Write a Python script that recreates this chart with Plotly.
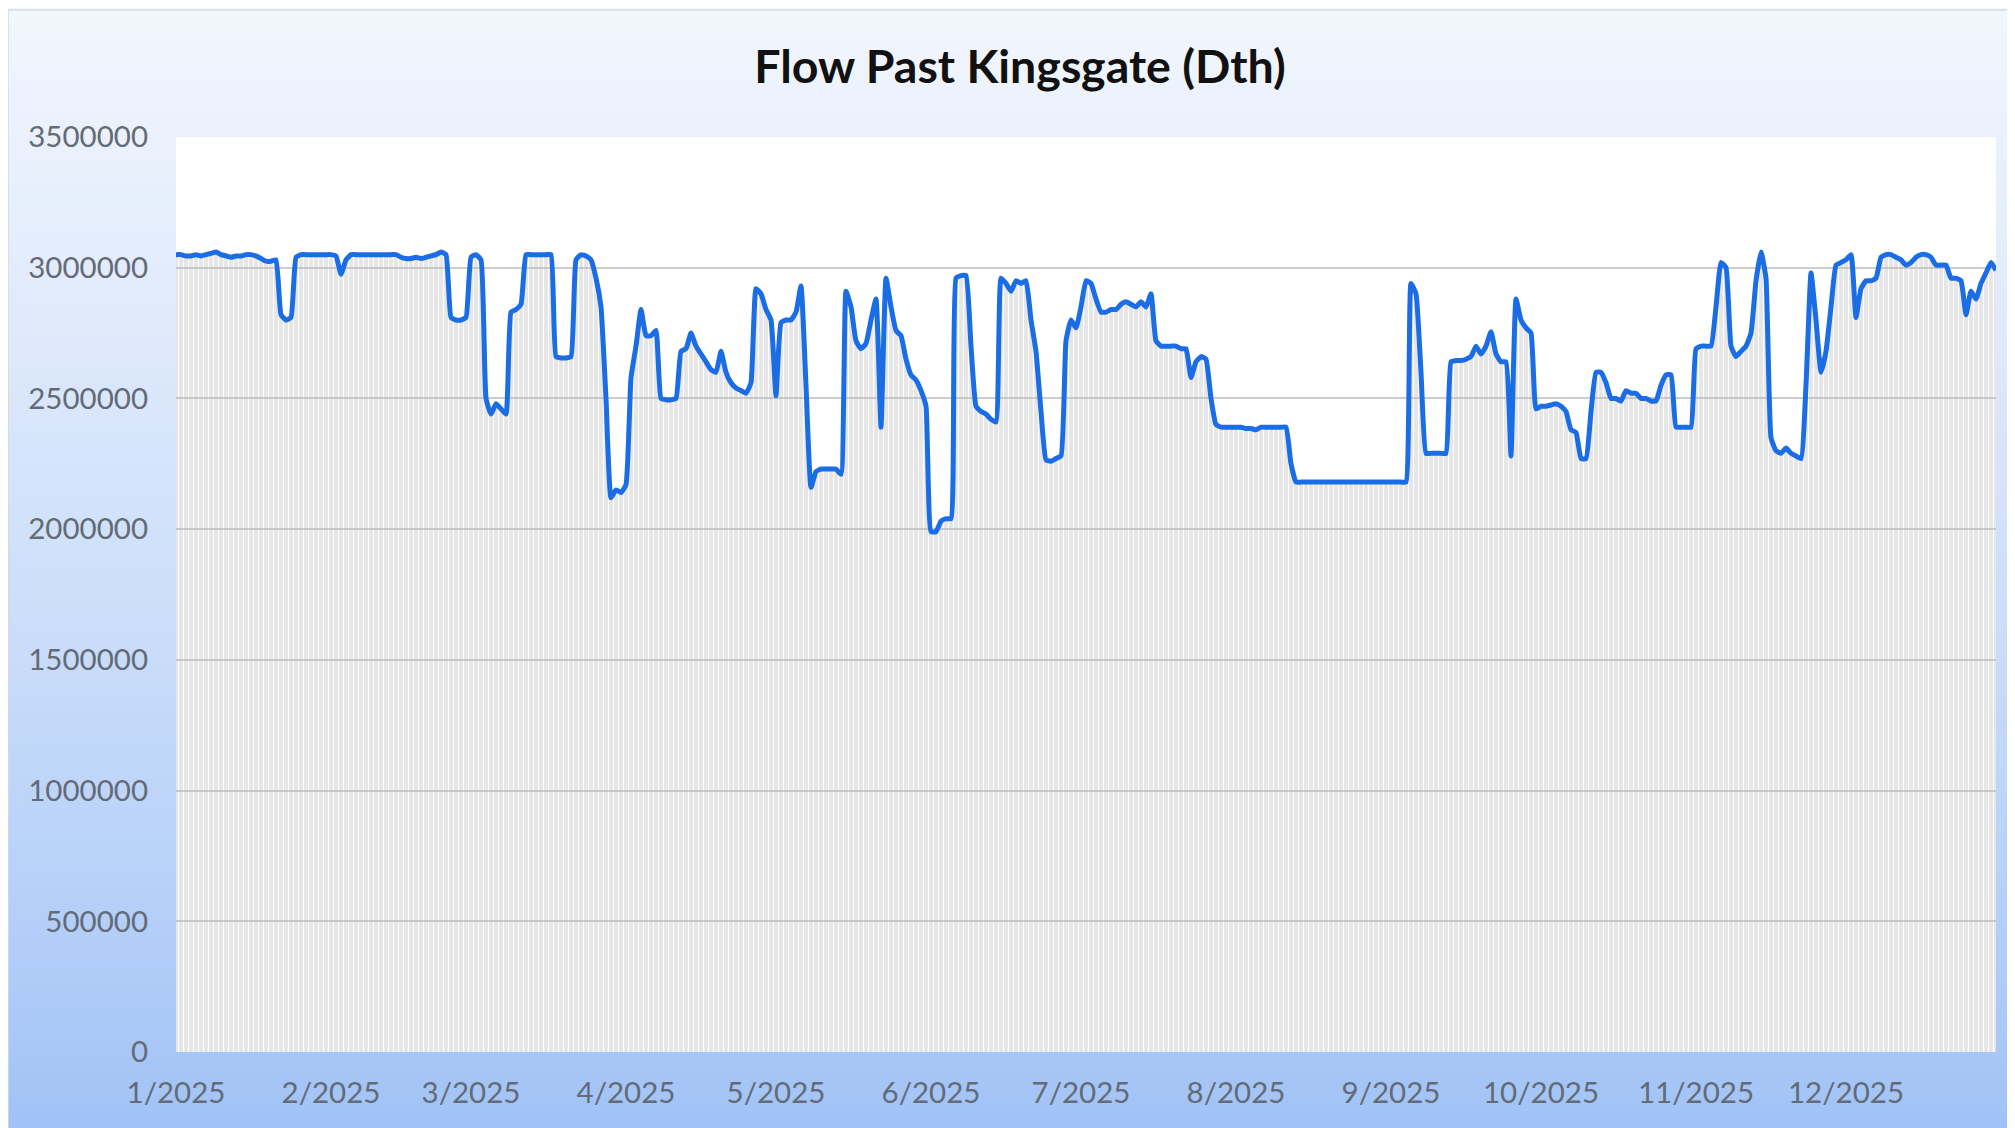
import pandas as pd
import plotly.graph_objects as go

# daily flow past Kingsgate, Dth, one list per month of 2025
jan = [3050000, 3050000, 3045000, 3045000, 3050000, 3045000, 3050000, 3055000, 3060000, 3050000,
       3045000, 3040000, 3045000, 3045000, 3050000, 3050000, 3045000, 3035000, 3025000, 3025000,
       3030000, 2820000, 2800000, 2810000, 3040000, 3050000, 3050000, 3050000, 3050000, 3050000,
       3050000]
feb = [3050000, 3045000, 2975000, 3030000, 3050000, 3050000, 3050000, 3050000, 3050000, 3050000,
       3050000, 3050000, 3050000, 3050000, 3040000, 3035000, 3035000, 3040000, 3035000, 3040000,
       3045000, 3050000, 3060000, 3050000, 2810000, 2800000, 2800000, 2810000]
mar = [3040000, 3050000, 3030000, 2500000, 2440000, 2480000, 2460000, 2440000, 2830000, 2840000,
       2860000, 3050000, 3050000, 3050000, 3050000, 3050000, 3050000, 2660000, 2655000, 2655000,
       2660000, 3030000, 3050000, 3045000, 3030000, 2960000, 2850000, 2500000, 2120000, 2150000,
       2140000]
apr = [2170000, 2580000, 2700000, 2840000, 2740000, 2740000, 2760000, 2500000, 2495000, 2495000,
       2500000, 2680000, 2690000, 2750000, 2700000, 2670000, 2640000, 2610000, 2600000, 2680000,
       2600000, 2560000, 2540000, 2530000, 2520000, 2560000, 2920000, 2900000, 2840000, 2800000]
may = [2510000, 2790000, 2800000, 2800000, 2830000, 2930000, 2550000, 2160000, 2220000, 2230000,
       2230000, 2230000, 2230000, 2210000, 2910000, 2850000, 2720000, 2690000, 2710000, 2800000,
       2880000, 2390000, 2960000, 2850000, 2760000, 2740000, 2650000, 2590000, 2570000, 2530000,
       2470000]
jun = [1990000, 1990000, 2030000, 2040000, 2040000, 2960000, 2970000, 2970000, 2700000, 2470000,
       2450000, 2440000, 2420000, 2410000, 2960000, 2940000, 2910000, 2950000, 2940000, 2950000,
       2800000, 2680000, 2450000, 2265000, 2260000, 2270000, 2280000, 2720000, 2800000, 2770000]
jul = [2850000, 2950000, 2940000, 2880000, 2830000, 2830000, 2840000, 2840000, 2860000, 2870000,
       2860000, 2850000, 2870000, 2850000, 2900000, 2720000, 2700000, 2700000, 2700000, 2700000,
       2690000, 2690000, 2580000, 2640000, 2660000, 2650000, 2500000, 2400000, 2390000, 2390000,
       2390000]
aug = [2390000, 2390000, 2385000, 2385000, 2380000, 2390000, 2390000, 2390000, 2390000, 2390000,
       2390000, 2250000, 2180000, 2180000, 2180000, 2180000, 2180000, 2180000, 2180000, 2180000,
       2180000, 2180000, 2180000, 2180000, 2180000, 2180000, 2180000, 2180000, 2180000, 2180000,
       2180000]
sep = [2180000, 2180000, 2180000, 2180000, 2940000, 2900000, 2600000, 2290000, 2290000, 2290000,
       2290000, 2290000, 2640000, 2645000, 2645000, 2650000, 2660000, 2700000, 2670000, 2700000,
       2755000, 2670000, 2640000, 2640000, 2280000, 2880000, 2800000, 2770000, 2750000, 2460000]
oct = [2470000, 2470000, 2475000, 2480000, 2470000, 2450000, 2380000, 2370000, 2270000, 2270000,
       2450000, 2600000, 2600000, 2560000, 2500000, 2500000, 2490000, 2530000, 2520000, 2520000,
       2500000, 2500000, 2490000, 2490000, 2550000, 2590000, 2590000, 2390000, 2390000, 2390000,
       2390000]
nov = [2690000, 2700000, 2700000, 2700000, 2850000, 3020000, 3000000, 2700000, 2660000, 2680000,
       2700000, 2750000, 2950000, 3060000, 2960000, 2350000, 2300000, 2290000, 2310000, 2290000,
       2280000, 2270000, 2550000, 2980000, 2800000, 2600000, 2680000, 2850000, 3010000, 3020000]
dec = [3030000, 3050000, 2810000, 2920000, 2950000, 2950000, 2960000, 3040000, 3050000, 3050000,
       3040000, 3030000, 3010000, 3020000, 3040000, 3050000, 3050000, 3040000, 3010000, 3010000,
       3010000, 2960000, 2960000, 2950000, 2820000, 2910000, 2880000, 2940000, 2980000, 3020000,
       2990000]

month_labels = ["1/2025", "2/2025", "3/2025", "4/2025", "5/2025", "6/2025",
                "7/2025", "8/2025", "9/2025", "10/2025", "11/2025", "12/2025"]
month_starts = ["2025-%02d-01" % m for m in range(1, 13)]

flow = jan + feb + mar + apr + may + jun + jul + aug + sep + oct + nov + dec
dates = pd.date_range("2025-01-01", periods=len(flow), freq="D")

W, H = 2015, 1128
off = 8  # page body margin shifts the figure by this much
# plot box in screen pixels (left, right, top, bottom), minus the page offset
pl, pr, pt, pb = 176 - off, 1996 - off, 137 - off, 1052 - off

fig = go.Figure()
# grey area under the line, one thin column per day
fig.add_trace(go.Bar(x=dates, y=flow, marker_color="rgba(185,185,185,0.36)",
                     marker_line_width=0, hoverinfo="skip"))
fig.add_trace(go.Scatter(x=dates, y=flow, mode="lines",
                         line=dict(color="#1a6de4", width=5, shape="spline", smoothing=0.4)))

# background gradient of the chart frame (pale at the top, blue at the bottom)
top_rgb = (242, 246, 253)
bot_rgb = (158, 193, 246)
n = 90
shapes = []
fy1 = (H - 2) / H
for i in range(n):
    t = i / (n - 1)
    c = tuple(round(bot_rgb[k] + (top_rgb[k] - bot_rgb[k]) * t ** 0.8) for k in range(3))
    shapes.append(dict(type="rect", xref="paper", yref="paper", layer="below",
                       x0=0, x1=1, y0=fy1 * i / n, y1=fy1 * (i + 1) / n + 0.002,
                       fillcolor="rgb(%d,%d,%d)" % c, line_width=0))
shapes.append(dict(type="rect", xref="paper", yref="paper", layer="below",
                   x0=0, x1=1, y0=0, y1=fy1, line=dict(color="#d4d9e0", width=1.5)))
# white plot area on top of the gradient
shapes.append(dict(type="rect", xref="paper", yref="paper", layer="below",
                   x0=pl / W, x1=pr / W, y0=(H - pb) / H, y1=(H - pt) / H,
                   fillcolor="white", line_width=0))

tick_font = dict(family="Lato", size=29.5, color="#636b76")

fig.update_layout(
    width=W, height=H,
    margin=dict(l=0, r=0, t=0, b=0),
    paper_bgcolor="white",
    plot_bgcolor="white",
    showlegend=False,
    bargap=0.22,
    shapes=shapes,
    title=dict(text="<b>Flow Past Kingsgate (Dth)</b>", x=(1020 - off) / W, y=1 - (67 - off) / H,
               xanchor="center", yanchor="middle",
               font=dict(family="Lato", size=46.5, color="#111111")),
    xaxis=dict(type="date", domain=[pl / W, pr / W],
               range=["2025-01-01", "2025-12-31"],
               tickvals=month_starts, ticktext=month_labels,
               showgrid=False, ticks="", showline=False, zeroline=False,
               tickfont=tick_font, ticklabelstandoff=20, automargin=False),
    yaxis=dict(domain=[(H - pb) / H, (H - pt) / H],
               range=[0, 3500000], dtick=500000, tickformat="d",
               showgrid=True, gridcolor="#cdcdcd", gridwidth=2,
               zeroline=False, ticks="", showline=False,
               tickfont=tick_font, ticklabelstandoff=27, automargin=False),
)

fig.write_html("out.html")
